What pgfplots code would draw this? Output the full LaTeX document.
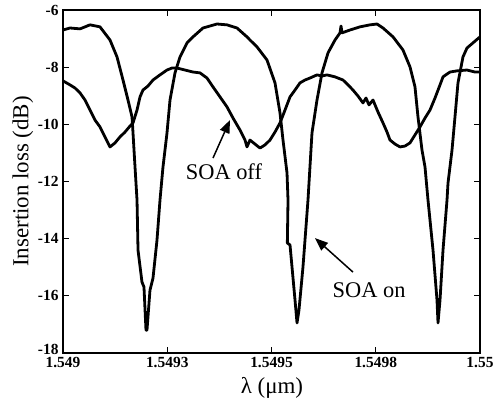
\documentclass[border=0pt]{standalone}
\usepackage{pgfplots}
\pgfplotsset{compat=1.18}
\usepackage{fontspec}
\setmainfont{Liberation Serif}
\usetikzlibrary{arrows.meta}
\begin{document}
\begin{tikzpicture}
\begin{axis}[
  at={(0,0)}, anchor=south west,
  scale only axis, width=417bp, height=343bp,
  xmin=0, xmax=10, ymin=-18, ymax=-6,
  xtick={0,2.5,5,7.5,10},
  xticklabels={1.549,1.5493,1.5495,1.5498,1.55},
  ytick={-18,-16,-14,-12,-10,-8,-6},
  yticklabels={\raisebox{7bp}{-18},-16,-14,-12,-10,-8,-6},
  tick align=inside, xtick pos=both, ytick pos=both,
  major tick length=6bp,
  axis line style={line width=1.5bp},
  tick style={line width=1.2bp, black},
  ticklabel style={font=\fontsize{15.5}{17}\selectfont\bfseries},
  xticklabel style={yshift=-1bp},
  yticklabel style={xshift=-1bp},
  xlabel={λ (μm)},
  ylabel={Insertion loss (dB)},
  label style={font=\fontsize{23}{26}\selectfont},
  xlabel style={at={(axis description cs:0.501,-0.102)}, anchor=center},
  ylabel style={at={(axis description cs:-0.096,0.5)}, anchor=center},
  clip=true,
]
% SOA on
\addplot[black, line width=2.8bp, line join=round] coordinates {
(0,-6.70) (0.168,-6.63) (0.408,-6.66) (0.647,-6.52) (0.887,-6.59)
(1.127,-7.05) (1.295,-7.64) (1.439,-8.45) (1.559,-9.15) (1.655,-9.74)
(1.679,-10.30) (1.727,-11.49) (1.775,-12.65) (1.799,-14.40) (1.894,-15.52)
(1.942,-15.69) (1.990,-17.20) (2.014,-17.20) (2.086,-15.80) (2.158,-15.38)
(2.254,-14.05) (2.326,-12.65) (2.398,-11.49) (2.494,-10.30) (2.566,-9.15)
(2.686,-8.20) (2.806,-7.64) (2.974,-7.15) (3.118,-6.94) (3.357,-6.63)
(3.693,-6.49) (3.933,-6.52) (4.173,-6.63) (4.412,-6.94) (4.484,-7.05)
(4.652,-7.29) (4.892,-7.75) (5.084,-8.55) (5.204,-9.60) (5.276,-10.55)
(5.372,-11.70) (5.396,-12.65) (5.38,-14.15) (5.444,-14.22) (5.564,-16.15)
(5.612,-16.95) (5.659,-16.50) (5.755,-14.99) (5.875,-12.65) (5.971,-10.30)
(6.091,-9.15) (6.211,-8.20) (6.355,-7.50) (6.523,-7.05) (6.643,-6.80)
(6.667,-6.56) (6.691,-6.80) (6.882,-6.70) (7.122,-6.59) (7.362,-6.52)
(7.530,-6.49) (7.674,-6.63) (7.914,-6.94) (8.153,-7.40) (8.321,-7.99)
(8.441,-8.69) (8.513,-9.74) (8.609,-10.90) (8.681,-11.49) (8.753,-12.65)
(8.873,-14.40) (8.969,-16.15) (8.993,-16.95) (9.041,-16.15) (9.113,-14.40)
(9.209,-12.65) (9.233,-12.05) (9.329,-10.90) (9.400,-9.74) (9.472,-8.55)
(9.592,-7.64) (9.688,-7.33) (9.832,-7.15) (10,-6.94)
};
% SOA off
\addplot[black, line width=2.8bp, line join=round] coordinates {
(0,-8.48) (0.048,-8.52) (0.168,-8.62) (0.288,-8.73) (0.408,-8.90) (0.528,-9.15)
(0.647,-9.50) (0.767,-9.85) (0.887,-10.09) (1.007,-10.44) (1.127,-10.79)
(1.247,-10.65) (1.367,-10.44) (1.487,-10.27) (1.607,-10.06) (1.679,-9.95)
(1.775,-9.50) (1.847,-9.04) (1.918,-8.80) (2.038,-8.66) (2.158,-8.45)
(2.326,-8.27) (2.494,-8.10) (2.614,-8.03) (2.734,-8.03) (2.926,-8.10)
(3.118,-8.17) (3.285,-8.20) (3.453,-8.38) (3.597,-8.69) (3.765,-9.04)
(3.933,-9.39) (4.077,-9.78) (4.245,-10.20) (4.365,-10.55) (4.412,-10.79)
(4.484,-10.55) (4.604,-10.69) (4.724,-10.83) (4.844,-10.72) (4.964,-10.55)
(5.084,-10.27) (5.204,-9.95) (5.324,-9.50) (5.444,-9.04) (5.564,-8.80)
(5.683,-8.55) (5.803,-8.45) (5.923,-8.38) (6.091,-8.27) (6.211,-8.31)
(6.331,-8.27) (6.523,-8.34) (6.715,-8.45) (6.835,-8.62) (6.954,-8.80)
(7.074,-9.01) (7.194,-9.25) (7.266,-9.08) (7.338,-9.32) (7.434,-9.15)
(7.554,-9.57) (7.674,-9.95) (7.770,-10.27) (7.842,-10.55) (7.962,-10.69)
(8.082,-10.79) (8.201,-10.76) (8.321,-10.65) (8.441,-10.37) (8.561,-10.09)
(8.681,-9.78) (8.801,-9.50) (8.921,-9.08) (9.041,-8.62) (9.113,-8.34)
(9.209,-8.24) (9.281,-8.17) (9.448,-8.13) (9.688,-8.10) (9.880,-8.17)
(10,-8.17)
};
\draw[line width=1.5bp, -{Triangle[length=13bp,width=10bp]}] (axis cs:3.597,-11.18) -- (axis cs:4.005,-9.85);
\node[font=\fontsize{22.5}{25}\selectfont, anchor=center] at (axis cs:3.86,-11.67) {SOA off};
\draw[line width=1.5bp, -{Triangle[length=13bp,width=10bp]}] (axis cs:6.954,-15.17) -- (axis cs:6.043,-13.98);
\node[font=\fontsize{22.5}{25}\selectfont, anchor=center] at (axis cs:7.34,-15.80) {SOA on};
\end{axis}
\pgfresetboundingbox
\path (-63bp,-47bp) rectangle (435bp,353bp);
\end{tikzpicture}
\end{document}
